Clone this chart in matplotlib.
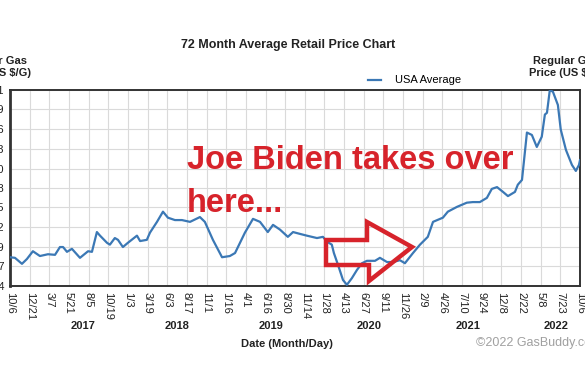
import matplotlib
matplotlib.use('Agg')
import matplotlib.pyplot as plt
import matplotlib.dates as mdates
from matplotlib.patches import Polygon
import numpy as np
import pandas as pd

plt.rcParams['font.family'] = ['Liberation Sans', 'DejaVu Sans']

# weekly-ish readings of the USA average line
dates = ['2016-10-06', '2016-10-25', '2016-11-21', '2016-12-10', '2017-01-02', '2017-01-29',
         '2017-03-01', '2017-03-28', '2017-04-16', '2017-04-28', '2017-05-13', '2017-06-01',
         '2017-07-02', '2017-08-02', '2017-08-17', '2017-09-05', '2017-09-17', '2017-10-14',
         '2017-10-25', '2017-11-13', '2017-11-25', '2017-12-14', '2018-01-02', '2018-02-06',
         '2018-02-18', '2018-03-16', '2018-03-28', '2018-04-24', '2018-05-17', '2018-06-05',
         '2018-07-02', '2018-07-29', '2018-08-29', '2018-10-06', '2018-10-25', '2018-11-25',
         '2018-12-30', '2019-01-29', '2019-02-18', '2019-03-28', '2019-04-28', '2019-05-25',
         '2019-06-24', '2019-07-14', '2019-08-10', '2019-09-09', '2019-09-29', '2019-10-25',
         '2019-11-21', '2019-12-30', '2020-01-22', '2020-02-06', '2020-02-25', '2020-03-04',
         '2020-03-20', '2020-04-08', '2020-04-23', '2020-05-12', '2020-06-01', '2020-06-20',
         '2020-07-09', '2020-08-09', '2020-08-28', '2020-09-24', '2020-10-17', '2020-11-13',
         '2020-12-02', '2021-01-02', '2021-01-29', '2021-02-28', '2021-03-20', '2021-04-27',
         '2021-05-16', '2021-06-20', '2021-07-28', '2021-08-20', '2021-09-16', '2021-10-13',
         '2021-11-01', '2021-11-21', '2021-12-14', '2022-01-02', '2022-01-29', '2022-02-09',
         '2022-02-25', '2022-03-04', '2022-03-16', '2022-04-04', '2022-04-23', '2022-05-12',
         '2022-05-24', '2022-06-01', '2022-06-12', '2022-06-24', '2022-07-13', '2022-07-24',
         '2022-08-13', '2022-09-05', '2022-09-20', '2022-10-02', '2022-10-06']
prices = [2.22, 2.21, 2.11, 2.19, 2.32, 2.24,
          2.27, 2.26, 2.39, 2.39, 2.31, 2.36,
          2.21, 2.32, 2.31, 2.64, 2.58, 2.46,
          2.43, 2.54, 2.51, 2.39, 2.46, 2.58,
          2.49, 2.51, 2.63, 2.81, 2.98, 2.88,
          2.84, 2.84, 2.81, 2.89, 2.81, 2.51,
          2.22, 2.24, 2.29, 2.63, 2.86, 2.81,
          2.64, 2.76, 2.68, 2.56, 2.64, 2.61,
          2.58, 2.54, 2.56, 2.48, 2.43, 2.29,
          2.09, 1.84, 1.76, 1.87, 2.01, 2.12,
          2.16, 2.16, 2.21, 2.14, 2.14, 2.17,
          2.12, 2.29, 2.43, 2.56, 2.81, 2.88,
          2.98, 3.06, 3.13, 3.14, 3.14, 3.21,
          3.36, 3.39, 3.31, 3.24, 3.31, 3.43,
          3.51, 3.80, 4.30, 4.26, 4.06, 4.23,
          4.60, 4.63, 5.01, 4.98, 4.76, 4.35,
          4.01, 3.76, 3.66, 3.76, 3.84]

x_labels = ['10/6', '12/21', '3/7', '5/21', '8/5', '10/19', '1/3', '3/19', '6/3', '8/17',
            '11/1', '1/16', '4/1', '6/16', '8/30', '11/14', '1/28', '4/13', '6/27', '9/11',
            '11/26', '2/9', '4/26', '7/10', '9/24', '12/8', '2/22', '5/8', '7/23', '10/6']
y_ticks = [1.74, 2.07, 2.39, 2.72, 3.05, 3.38, 3.70, 4.03, 4.36, 4.69, 5.01]
years = ['2017', '2018', '2019', '2020', '2021', '2022']
year_pos = ['2017-07-14', '2018-07-12', '2019-07-05', '2020-07-17', '2021-08-02', '2022-07-07']

W, H = 585, 390
fig = plt.figure(figsize=(W / 100, H / 100), dpi=100)
ax = fig.add_axes([10 / W, 1 - 286 / H, 570 / W, 196 / H])

xd = mdates.datestr2num(dates)
start, end = mdates.datestr2num('2016-10-06'), mdates.datestr2num('2022-10-06')
ax.plot(xd, prices, color='#3b78b5', lw=1.6, label='USA Average', zorder=3)

ax.set_xlim(start, end)
ax.set_ylim(y_ticks[0], y_ticks[-1])
ax.set_xticks(np.linspace(start, end, len(x_labels)))
ax.set_xticklabels(x_labels, rotation=270, fontsize=8, color='#222222')
ax.set_yticks(y_ticks)
ax.set_yticklabels(['%.2f' % v for v in y_ticks], fontsize=8, color='#222222')
ax.tick_params(length=0, pad=4)
ax.grid(True, color='#dadada', lw=0.8)
for s in ax.spines.values():
    s.set_color('#333333')
    s.set_linewidth(1.4)
ax.spines['left'].set_linewidth(2)

for yr, pos in zip(years, year_pos):
    ax.text(mdates.datestr2num(pos), -0.205, yr, transform=ax.get_xaxis_transform(),
            ha='center', va='center', fontsize=8, fontweight='bold', color='#222222')

leg = ax.legend(loc='lower left', bbox_to_anchor=(352 / 570, 0.995), frameon=False,
                fontsize=8, handlelength=1.2, borderpad=0.0, handletextpad=1.3)

fig.text(288 / W, 1 - 45 / H, '72 Month Average Retail Price Chart', ha='center', va='center',
         fontsize=9, fontweight='bold', color='#222222')
fig.text(-6 / W, 1 - 67 / H, 'Regular Gas\nPrice (US $/G)', ha='center', va='center',
         fontsize=8, fontweight='bold', color='#222222', linespacing=1.3)
fig.text(566 / W, 1 - 67 / H, 'Regular Gas\nPrice (US $/G)', ha='center', va='center',
         fontsize=8, fontweight='bold', color='#222222', linespacing=1.3)
fig.text(287 / W, 1 - 344 / H, 'Date (Month/Day)', ha='center', va='center',
         fontsize=8, fontweight='bold', color='#222222')
fig.text(476 / W, 1 - 343 / H, '©2022 GasBuddy.com', ha='left', va='center',
         fontsize=9, color='#a0a0a0')

red = '#d7232b'
fig.text(187 / W, 1 - 169 / H, 'Joe Biden takes over', ha='left', va='baseline',
         fontsize=23.5, fontweight='bold', color=red)
fig.text(187 / W, 1 - 212 / H, 'here...', ha='left', va='baseline',
         fontsize=23.5, fontweight='bold', color=red)

arrow_px = [(326, 240), (367, 240), (367, 222), (412, 247), (369, 281), (369, 265), (326, 265)]
arrow = Polygon([(px / W, 1 - py / H) for px, py in arrow_px], closed=True, fill=False,
                edgecolor=red, lw=3.2, joinstyle='miter', transform=fig.transFigure, zorder=5)
fig.patches.append(arrow)

fig.savefig('out.png', dpi=100)
